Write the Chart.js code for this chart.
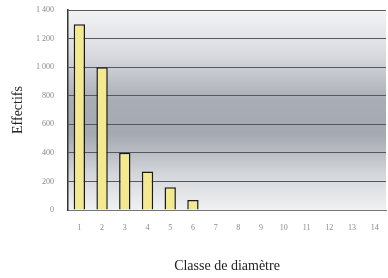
<!DOCTYPE html>
<html><head><meta charset="utf-8">
<script src="https://cdn.jsdelivr.net/npm/chart.js@4"></script>
<style>html,body{margin:0;padding:0;background:#fff}#wrap{width:388px;height:278px}</style>
</head><body><div id="wrap"><canvas id="c"></canvas></div>
<script>
const classes = ["1","2","3","4","5","6","7","8","9","10","11","12","13","14"];
const effectifs = [1300,1000,400,270,160,70,0,0,0,0,0,0,0,0];
const yTicks = [0,200,400,600,800,1000,1200,1400];

function frNum(v){ return v>=1000 ? Math.floor(v/1000)+" "+String(v%1000).padStart(3,"0") : String(v); }

const bgPlugin = {
  id:"bgband",
  beforeDraw(chart){
    const {ctx, chartArea:a} = chart;
    const g = ctx.createLinearGradient(0,a.top,0,a.bottom);
    g.addColorStop(0,"#f3f3f5");
    g.addColorStop(0.22,"#d9dbe0");
    g.addColorStop(0.45,"#a9adb5");
    g.addColorStop(0.62,"#a4a8b0");
    g.addColorStop(0.82,"#d3d6da");
    g.addColorStop(1,"#f0f1f2");
    ctx.save(); ctx.fillStyle=g; ctx.fillRect(a.left,a.top,a.right-a.left,a.bottom-a.top); ctx.restore();
  }
};

new Chart(document.getElementById("c"),{
  type:"bar",
  data:{labels:classes,datasets:[{data:effectifs,backgroundColor:"#f4e98f",borderColor:"#1a1a1a",borderWidth:1.5,barPercentage:0.5,categoryPercentage:1}]},
  options:{
    responsive:true, maintainAspectRatio:false, animation:false,
    layout:{padding:{top:10,right:2,left:0,bottom:0}},
    plugins:{legend:{display:false},tooltip:{enabled:false}},
    scales:{
      x:{grid:{display:false},border:{color:"#777"},
         ticks:{color:"#888",font:{family:"Liberation Serif",size:8},padding:5,maxRotation:0,autoSkip:false},
         title:{display:true,text:"Classe de diamètre",color:"#222",font:{family:"Liberation Serif",size:14},padding:{top:14,bottom:3}},
         afterFit(ax){ax.height=68;}},
      y:{min:0,max:1400,afterBuildTicks(ax){ax.ticks=yTicks.map(v=>({value:v}));},
         grid:{color:"#55585e",lineWidth:1,drawTicks:false},border:{color:"#333",width:1.5},
         ticks:{color:"#888",font:{family:"Liberation Serif",size:8},padding:14,callback:v=>frNum(v)},
         title:{display:true,text:"Effectifs",color:"#222",font:{family:"Liberation Serif",size:14},padding:{top:10,bottom:0}},
         afterFit(ax){ax.width=68;ax.paddingTop=0;ax.paddingBottom=0;}}
    }
  },
  plugins:[bgPlugin]
});
</script></body></html>
